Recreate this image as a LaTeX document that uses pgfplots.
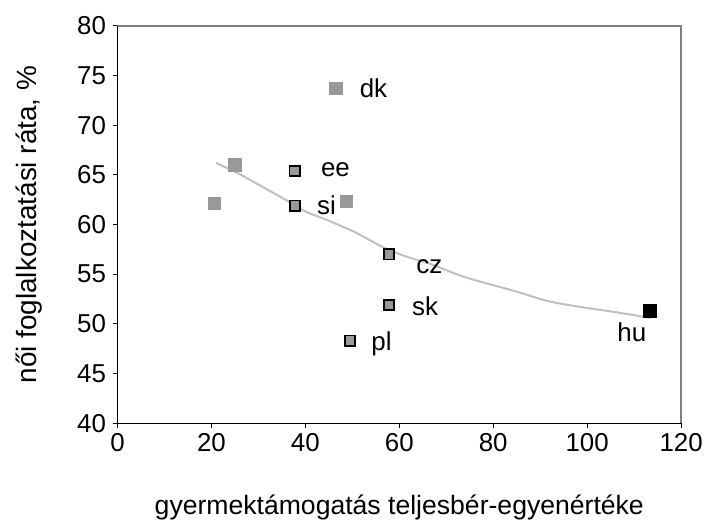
\documentclass[border=0pt]{standalone}
\usepackage{pgfplots}
\pgfplotsset{compat=1.18}
\usepackage{fontspec}
\setmainfont{Liberation Sans}
\definecolor{ptgray}{HTML}{999999}
\definecolor{trend}{HTML}{C0C0C0}
\definecolor{frame}{HTML}{808080}
\begin{document}
\begin{tikzpicture}
\begin{axis}[
  scale only axis,
  width=566bp, height=399bp,
  xmin=0, xmax=120, ymin=40, ymax=80,
  xtick={0,20,...,120}, ytick={40,45,...,80},
  tick align=outside, tick pos=left,
  major tick length=5bp,
  axis line style={draw=none},
  tick style={black, line width=0.8bp},
  ticklabel style={font=\fontsize{26bp}{30bp}\selectfont},
  xticklabel style={yshift=-2bp},
  yticklabel style={xshift=-3bp},
  /pgf/number format/assume math mode=true,
  xlabel={gyermektámogatás teljesbér-egyenértéke},
  ylabel={női foglalkoztatási ráta, \%},
  xlabel style={font=\fontsize{26.7bp}{31bp}\selectfont, yshift=-36bp},
  ylabel style={font=\fontsize{28bp}{32bp}\selectfont, yshift=28bp},
  clip=false,
]
\draw[frame, line width=2bp] (rel axis cs:0,1) -- (rel axis cs:1,1) -- (rel axis cs:1,0);
\draw[black, line width=1.2bp] (rel axis cs:0,1) -- (rel axis cs:0,0) -- (rel axis cs:1,0);
\addplot[trend, line width=2bp, smooth, no marks] coordinates {
(21.0,66.2) (25.9,65.1) (31.6,63.6) (36.5,62.3) (40.1,61.3) (44.9,60.4)
(50.7,59.2) (56.2,57.8) (61.3,56.8) (66.8,56.0) (74.0,54.7) (84.6,53.3)
(91.6,52.3) (98.6,51.7) (105.8,51.2) (113.4,50.6)};
\addplot[only marks, mark=square*, mark size=6.2bp, mark options={fill=ptgray, draw=ptgray, line width=0pt}] coordinates {
(20.6,62.1) (25.0,66.0) (46.5,73.7) (48.7,62.3)};
\addplot[only marks, mark=square*, mark size=5.2bp, mark options={fill=ptgray, draw=black, line width=1.7bp}] coordinates {
(37.7,65.4) (37.8,61.9) (57.8,57.0) (57.8,51.9) (49.5,48.3)};
\addplot[only marks, mark=square*, mark size=6.5bp, mark options={fill=black, draw=black, line width=0pt}] coordinates {
(113.3,51.3)};
\begin{scope}[every node/.style={font=\fontsize{26bp}{30bp}\selectfont, inner sep=0pt}]
\node at (axis cs:54.5,73.7) {dk};
\node at (axis cs:46.4,65.5) {ee};
\node at (axis cs:44.5,61.9) {si};
\node at (axis cs:66.4,55.8) {cz};
\node at (axis cs:65.5,51.8) {sk};
\node at (axis cs:56.2,48.0) {pl};
\node at (axis cs:109.5,49.2) {hu};
\end{scope}
\coordinate (o) at (rel axis cs:0,0);
\end{axis}
\path (o) ++(-118bp,-102bp) rectangle ++(706bp,527bp);
\end{tikzpicture}
\end{document}
